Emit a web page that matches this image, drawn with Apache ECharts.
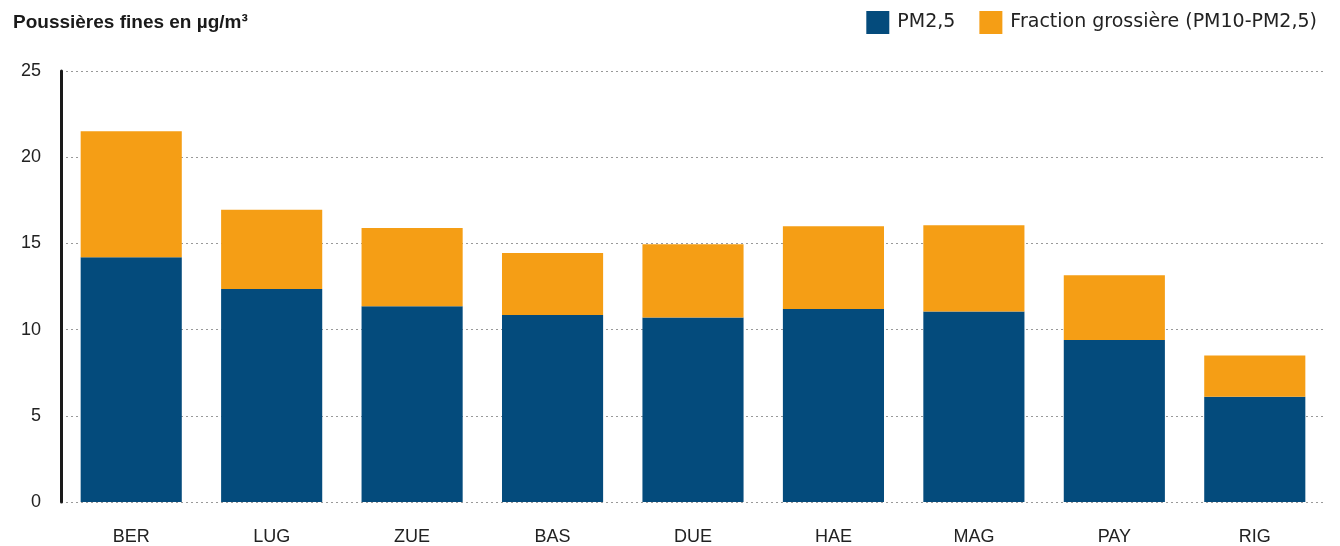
<!DOCTYPE html>
<html>
<head>
<meta charset="utf-8">
<script src="https://cdn.jsdelivr.net/npm/echarts@6/dist/echarts.min.js"></script>
<style>
  html, body { margin: 0; padding: 0; background: #fff; }
  #main { width: 1340px; height: 546px; }
</style>
</head>
<body>
<div id="main"></div>
<script>
  // stations
  var stations = ['BER', 'LUG', 'ZUE', 'BAS', 'DUE', 'HAE', 'MAG', 'PAY', 'RIG'];
  // PM2,5 values
  var pm25 = [14.2, 12.35, 11.35, 10.85, 10.7, 11.2, 11.05, 9.4, 6.1];
  // coarse fraction (PM10 - PM2,5)
  var coarse = [7.3, 4.6, 4.55, 3.6, 4.25, 4.8, 5.0, 3.75, 2.4];
  var yTicks = [0, 5, 10, 15, 20, 25];

  var myChart = echarts.init(document.getElementById('main'));

  var option = {
    animation: false,
    textStyle: { fontFamily: '"Liberation Sans", Arial, sans-serif' },
    title: {
      text: 'Poussières fines en µg/m³',
      left: 8,
      top: 8,
      textStyle: { fontSize: 19, fontWeight: 'bold', color: '#1a1a1a', fontFamily: '"Liberation Sans", Arial, sans-serif' }
    },
    legend: {
      right: 18,
      top: 6,
      icon: 'rect',
      itemWidth: 23,
      itemHeight: 23,
      itemGap: 24,
      textStyle: { fontSize: 19, color: '#222', padding: [0, 0, 0, 3], fontFamily: '"DejaVu Sans", sans-serif' },
      data: ['PM2,5', 'Fraction grossière (PM10-PM2,5)']
    },
    grid: {
      left: 61,
      right: 15,
      top: 71,
      bottom: 42
    },
    xAxis: {
      type: 'category',
      data: stations,
      axisLine: { show: false },
      axisTick: { show: false },
      axisLabel: { fontSize: 18, color: '#222', margin: 26 }
    },
    yAxis: {
      type: 'value',
      min: yTicks[0],
      max: yTicks[yTicks.length - 1],
      interval: 5,
      axisLine: { show: true, lineStyle: { color: '#1a1a1a', width: 3 } },
      axisTick: { show: false },
      axisLabel: { fontSize: 18, color: '#222', margin: 20 },
      splitLine: { lineStyle: { color: '#999', type: [2, 3], width: 1 } }
    },
    series: [
      {
        name: 'PM2,5',
        type: 'bar',
        stack: 'pm',
        barWidth: '72%',
        itemStyle: { color: '#044b7c' },
        data: pm25
      },
      {
        name: 'Fraction grossière (PM10-PM2,5)',
        type: 'bar',
        stack: 'pm',
        barWidth: '72%',
        itemStyle: { color: '#f59e15' },
        data: coarse
      }
    ]
  };

  myChart.setOption(option);
</script>
</body>
</html>
